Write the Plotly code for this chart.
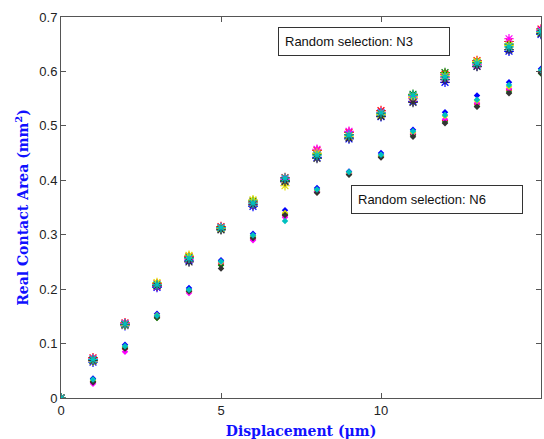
import plotly.graph_objects as go

displacement = list(range(0, 16))

# Random selection N3 (upper group, star markers)
n3_runs = [
    [0, 0.066, 0.133, 0.203, 0.252, 0.310, 0.352, 0.397, 0.442, 0.476, 0.517, 0.545, 0.580, 0.610, 0.637, 0.668],
    [0, 0.074, 0.138, 0.210, 0.260, 0.315, 0.360, 0.405, 0.455, 0.488, 0.528, 0.555, 0.595, 0.620, 0.655, 0.678],
    [0, 0.070, 0.135, 0.207, 0.258, 0.312, 0.362, 0.400, 0.448, 0.484, 0.522, 0.558, 0.598, 0.616, 0.650, 0.674],
    [0, 0.072, 0.137, 0.205, 0.255, 0.313, 0.356, 0.402, 0.457, 0.490, 0.525, 0.550, 0.588, 0.613, 0.660, 0.676],
    [0, 0.068, 0.134, 0.212, 0.262, 0.311, 0.364, 0.390, 0.450, 0.480, 0.520, 0.552, 0.592, 0.618, 0.648, 0.672],
    [0, 0.069, 0.135, 0.206, 0.250, 0.309, 0.355, 0.398, 0.440, 0.478, 0.518, 0.543, 0.585, 0.609, 0.640, 0.670],
    [0, 0.071, 0.136, 0.208, 0.257, 0.313, 0.358, 0.404, 0.446, 0.483, 0.524, 0.556, 0.590, 0.615, 0.645, 0.673],
]

# Random selection N6 (lower group, diamond markers)
n6_runs = [
    [0, 0.036, 0.098, 0.155, 0.202, 0.253, 0.302, 0.345, 0.386, 0.416, 0.450, 0.493, 0.525, 0.556, 0.580, 0.605],
    [0, 0.030, 0.090, 0.148, 0.195, 0.246, 0.292, 0.335, 0.378, 0.412, 0.443, 0.484, 0.510, 0.540, 0.566, 0.598],
    [0, 0.031, 0.093, 0.147, 0.198, 0.244, 0.296, 0.338, 0.380, 0.411, 0.444, 0.483, 0.507, 0.536, 0.562, 0.596],
    [0, 0.026, 0.085, 0.150, 0.193, 0.249, 0.290, 0.332, 0.379, 0.413, 0.446, 0.486, 0.512, 0.542, 0.568, 0.600],
    [0, 0.033, 0.094, 0.152, 0.196, 0.250, 0.298, 0.340, 0.382, 0.414, 0.445, 0.488, 0.518, 0.546, 0.572, 0.601],
    [0, 0.029, 0.091, 0.149, 0.196, 0.238, 0.294, 0.336, 0.377, 0.410, 0.442, 0.480, 0.505, 0.535, 0.560, 0.597],
    [0, 0.034, 0.095, 0.151, 0.199, 0.251, 0.299, 0.325, 0.383, 0.415, 0.447, 0.490, 0.520, 0.548, 0.575, 0.602],
]

run_colors = ["#0000ff", "#ff0000", "#008000", "#ff00ff", "#e0e000", "#333333", "#00c0c0"]

x_ticks = [0, 5, 10, 15]
y_ticks = [0, 0.1, 0.2, 0.3, 0.4, 0.5, 0.6, 0.7]

fig = go.Figure()

for vals, col in zip(n6_runs, run_colors):
    fig.add_trace(go.Scatter(
        x=displacement, y=vals, mode="markers", showlegend=False,
        marker=dict(symbol="diamond", size=5, color=col, line=dict(width=0)),
    ))

for vals, col in zip(n3_runs, run_colors):
    fig.add_trace(go.Scatter(
        x=displacement, y=vals, mode="markers", showlegend=False,
        marker=dict(symbol="asterisk-open", size=8, color=col, line=dict(width=1.2, color=col)),
    ))

axis_common = dict(
    showgrid=False, zeroline=False, showline=True, linecolor="#555555", linewidth=1,
    mirror="ticks", ticks="inside", ticklen=5, tickcolor="#555555",
    tickfont=dict(family="Liberation Sans, Arial, sans-serif", size=13, color="#222222"),
)

title_font = dict(family="DejaVu Serif, Liberation Serif, serif", size=14, color="#1010ff")

fig.update_xaxes(range=[0, 15], tickvals=x_ticks, ticktext=[str(v) for v in x_ticks],
                 title=dict(text="<b>Displacement (μm)</b>", standoff=9, font=title_font),
                 **axis_common)
fig.update_yaxes(range=[0, 0.7], tickvals=y_ticks, ticktext=[("%g" % v) for v in y_ticks],
                 title=dict(text="<b>Real Contact Area (mm<sup>2</sup>)</b>", standoff=7, font=title_font),
                 **axis_common)

fig.add_annotation(x=0.452, y=0.975, xref="paper", yref="paper", xanchor="left", yanchor="top",
                   text="Random selection: N3", showarrow=False,
                   font=dict(family="Liberation Sans, Arial, sans-serif", size=13, color="#111111"),
                   bordercolor="#333333", borderwidth=1, borderpad=6, bgcolor="white", width=158, align="left")
fig.add_annotation(x=0.604, y=0.56, xref="paper", yref="paper", xanchor="left", yanchor="top",
                   text="Random selection: N6", showarrow=False,
                   font=dict(family="Liberation Sans, Arial, sans-serif", size=13, color="#111111"),
                   bordercolor="#333333", borderwidth=1, borderpad=6, bgcolor="white", width=158, align="left")

fig.update_layout(
    width=544, height=439,
    margin=dict(l=61, r=3, t=17, b=41),
    plot_bgcolor="white", paper_bgcolor="white",
)

fig.write_html("out.html")
